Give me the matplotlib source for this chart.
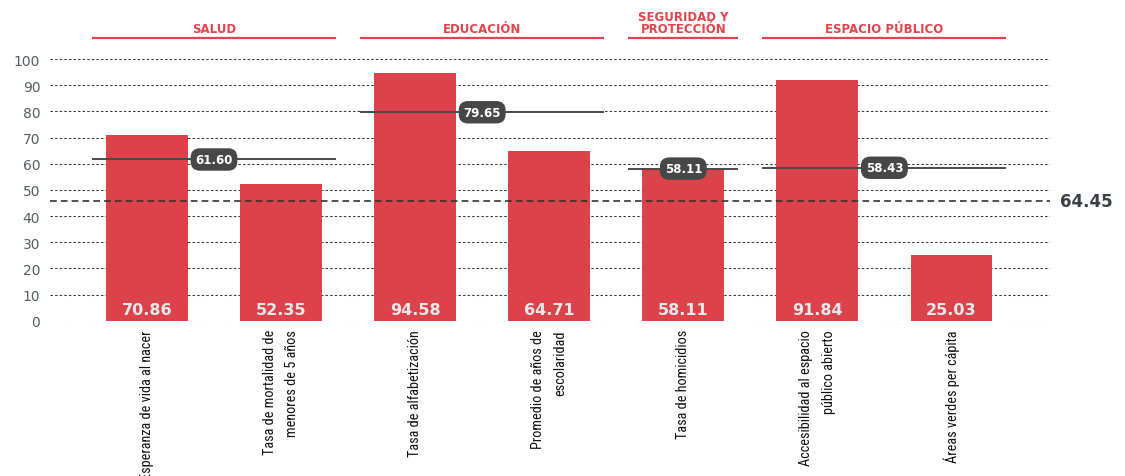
import os
import matplotlib
matplotlib.use("Agg")
import matplotlib.pyplot as plt
from matplotlib import font_manager
from matplotlib.font_manager import FontProperties
import matplotlib.transforms as mtransforms
import numpy as np

# ---- data ----
categories = [
    "Esperanza de vida al nacer",
    "Tasa de mortalidad de\nmenores de 5 años",
    "Tasa de alfabetización",
    "Promedio de años de\nescolaridad",
    "Tasa de homicidios",
    "Accesibilidad al espacio\npúblico abierto",
    "Áreas verdes per cápita",
]
values = [70.86, 52.35, 94.58, 64.71, 58.11, 91.84, 25.03]
value_labels = ["70.86", "52.35", "94.58", "64.71", "58.11", "91.84", "25.03"]

groups = ["SALUD", "EDUCACIÓN", "SEGURIDAD Y\nPROTECCIÓN", "ESPACIO PÚBLICO"]
group_first = [0, 2, 4, 5]
group_last = [1, 3, 4, 6]
group_avgs = [61.60, 79.65, 58.11, 58.43]
group_avg_labels = ["61.60", "79.65", "58.11", "58.43"]

overall_label = "64.45"
overall_line_level = 45.9   # level at which the reference draws the overall line

yticks = [0, 10, 20, 30, 40, 50, 60, 70, 80, 90, 100]

# ---- style ----
RED = "#DC4249"
HEAD_RED = "#E4434B"
DARK = "#474747"


def find_condensed():
    prio = ["liberation sans narrow", "roboto condensed", "open sans condensed",
            "dejavu sans condensed", "noto sans condensed", "arial narrow"]
    best = None
    best_rank = 99
    for f in font_manager.fontManager.ttflist:
        fn = os.path.basename(f.fname).lower()
        name = f.name.lower()
        tag = name + " " + fn
        if not ("narrow" in tag or "condensed" in tag or
                str(f.stretch) in ("condensed", "semi-condensed", "extra-condensed")):
            continue
        if "bold" in fn or "italic" in fn or "oblique" in fn or "light" in fn \
                or "black" in fn or "medium" in fn or "thin" in fn or "semi" in fn:
            continue
        rank = 50
        for i, p in enumerate(prio):
            key = p.replace(" ", "")
            if p in tag or key in fn.replace("-", "").replace("_", ""):
                rank = i
                break
        if rank < best_rank:
            best_rank = rank
            best = f.fname
    return best


cond_path = find_condensed()

fig = plt.figure(figsize=(11.25, 4.77), dpi=100)
ax = fig.add_axes([50 / 1125, 1 - 321.7 / 477, 1000 / 1125, (321.7 - 60) / 477])

# choose label font size so that "Tasa de alfabetización" is ~127 px long
renderer = fig.canvas.get_renderer()
base = 10.0
fp_test = FontProperties(fname=cond_path, size=base) if cond_path else FontProperties(family="DejaVu Sans", size=base)
t = fig.text(0, 0, "Tasa de alfabetización", fontproperties=fp_test)
w = t.get_window_extent(renderer).width
t.remove()
lab_size = float(np.clip(base * 127.0 / w, 7.5, 11.5))
fp_lab = FontProperties(fname=cond_path, size=lab_size) if cond_path else FontProperties(family="DejaVu Sans", size=lab_size)
lab_px = lab_size * 100 / 72
lab_linespacing = 30.0 / (1.17 * lab_px)

x = np.arange(len(values))
ax.set_xlim(-0.723, 6.735)
ax.set_ylim(0, 100)

# grid
for tk in yticks:
    ax.axhline(tk, color="#3A3A3A", lw=0.75, ls=(0, (2.4, 2.0)), zorder=1)

ax.bar(x, values, width=0.61, color=RED, zorder=2)

# value labels inside bars
for xi, lab in zip(x, value_labels):
    ax.text(xi, 4.3, lab, ha="center", va="center", fontsize=11.5,
            fontweight="bold", color="#E8E8E8", zorder=4)

# overall line
ax.axhline(overall_line_level, color="#333333", lw=1.2, ls=(0, (4, 2.5)), zorder=3)
trans = mtransforms.blended_transform_factory(ax.transAxes, ax.transData)
ax.text(1.01, overall_line_level, overall_label, transform=trans, ha="left",
        va="center", fontsize=12, fontweight="bold", color="#3B4048",
        clip_on=False)

# group headers, underlines, averages
pad = 0.41
for name, a, b, avg, alab in zip(groups, group_first, group_last, group_avgs, group_avg_labels):
    x0, x1 = a - pad, b + pad
    xc = (x0 + x1) / 2
    ax.plot([x0, x1], [107.9, 107.9], color=HEAD_RED, lw=1.6,
            clip_on=False, solid_capstyle="butt", zorder=3)
    ax.text(xc, 110.2, name, ha="center", va="baseline", fontsize=8.5,
            fontweight="bold", color=HEAD_RED, linespacing=0.95,
            multialignment="center", clip_on=False)
    ax.plot([x0, x1], [avg, avg], color="#4A4A4A", lw=1.4,
            solid_capstyle="butt", zorder=5)
    ax.text(xc, avg, alab, ha="center", va="center", fontsize=8.5,
            fontweight="bold", color="white", zorder=6,
            bbox=dict(boxstyle="round,pad=0.4,rounding_size=0.8",
                      fc=DARK, ec="none"))

# axes styling
for s in ax.spines.values():
    s.set_visible(False)
ax.set_yticks(yticks)
ax.set_yticklabels([str(v) for v in yticks], fontsize=10, color="#555C66")
ax.tick_params(axis="y", length=0, pad=7)
ax.set_xticks(x)
ax.set_xticklabels(categories, rotation=90, ha="center", va="top",
                   multialignment="right", color="#111111",
                   linespacing=lab_linespacing)
for tl in ax.get_xticklabels():
    tl.set_fontproperties(fp_lab)
ax.tick_params(axis="x", length=0, pad=6)

fig.savefig("out.png", dpi=100)
